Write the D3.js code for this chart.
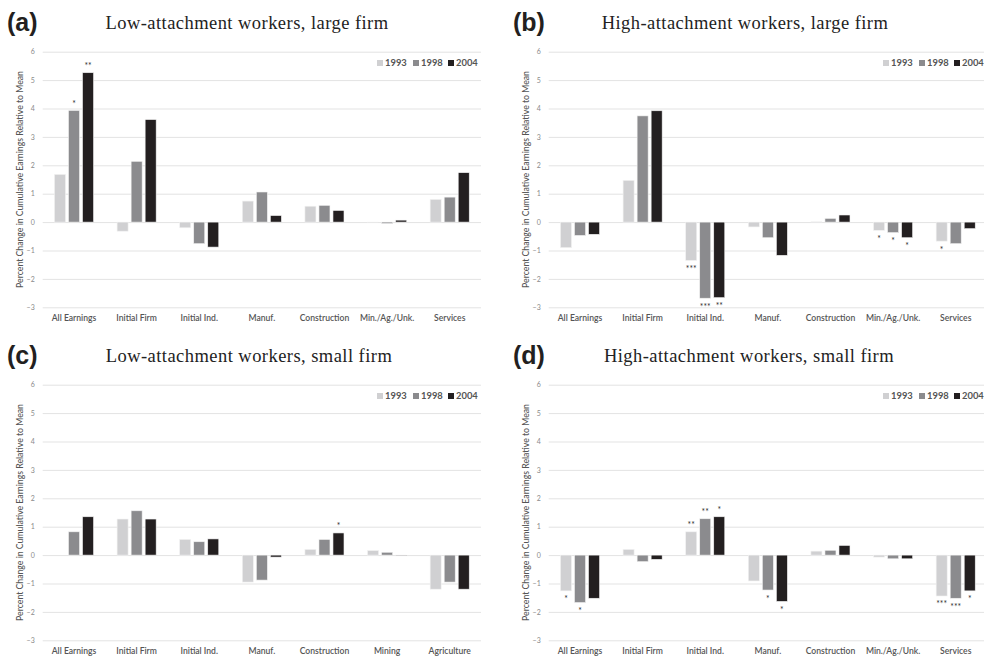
<!DOCTYPE html>
<html>
<head>
<meta charset="utf-8">
<script src="https://cdn.jsdelivr.net/npm/d3@7"></script>
<style>
  html, body { margin: 0; padding: 0; background: #fff; }
  svg { display: block; }
</style>
</head>
<body>
<svg id="chart" width="984" height="657"></svg>
<script>
// Series (survey years) and y-axis ticks shared by all four panels
const years = ["1993", "1998", "2004"];
const yTicks = [-3, -2, -1, 0, 1, 2, 3, 4, 5, 6];

// Category labels
const industryCats = ["All Earnings", "Initial Firm", "Initial Ind.", "Manuf.", "Construction", "Min./Ag./Unk.", "Services"];
const smallLowCats = ["All Earnings", "Initial Firm", "Initial Ind.", "Manuf.", "Construction", "Mining", "Agriculture"];

// (a) Low-attachment workers, large firm
const lowLarge1993 = [1.68, -0.32, -0.20, 0.74, 0.56, -0.02, 0.80];
const lowLarge1998 = [3.93, 2.14, -0.76, 1.06, 0.59, -0.05, 0.88];
const lowLarge2004 = [5.26, 3.61, -0.88, 0.23, 0.41, 0.07, 1.74];
const lowLargeSig1993 = ["", "", "", "", "", "", ""];
const lowLargeSig1998 = ["*", "", "", "", "", "", ""];
const lowLargeSig2004 = ["**", "", "", "", "", "", ""];

// (b) High-attachment workers, large firm
const highLarge1993 = [-0.90, 1.47, -1.35, -0.17, 0.01, -0.29, -0.67];
const highLarge1998 = [-0.47, 3.74, -2.68, -0.55, 0.13, -0.37, -0.76];
const highLarge2004 = [-0.43, 3.92, -2.66, -1.17, 0.25, -0.55, -0.23];
const highLargeSig1993 = ["", "", "***", "", "", "*", "*"];
const highLargeSig1998 = ["", "", "***", "", "", "*", ""];
const highLargeSig2004 = ["", "", "**", "", "", "*", ""];

// (c) Low-attachment workers, small firm
const lowSmall1993 = [0.00, 1.27, 0.55, -0.95, 0.20, 0.16, -1.20];
const lowSmall1998 = [0.82, 1.56, 0.47, -0.88, 0.55, 0.10, -0.95];
const lowSmall2004 = [1.35, 1.27, 0.57, -0.07, 0.78, -0.01, -1.20];
const lowSmallSig1993 = ["", "", "", "", "", "", ""];
const lowSmallSig1998 = ["", "", "", "", "", "", ""];
const lowSmallSig2004 = ["", "", "", "", "*", "", ""];

// (d) High-attachment workers, small firm
const highSmall1993 = [-1.26, 0.20, 0.82, -0.91, 0.14, -0.07, -1.44];
const highSmall1998 = [-1.67, -0.23, 1.28, -1.23, 0.17, -0.13, -1.52];
const highSmall2004 = [-1.52, -0.15, 1.35, -1.63, 0.34, -0.13, -1.26];
const highSmallSig1993 = ["*", "", "**", "", "", "", "***"];
const highSmallSig1998 = ["*", "", "**", "*", "", "", "***"];
const highSmallSig2004 = ["", "", "*", "*", "", "", "*"];

const panels = [
  { tag: "(a)", title: "Low-attachment workers, large firm", cats: industryCats,
    series: [lowLarge1993, lowLarge1998, lowLarge2004],
    sig: [lowLargeSig1993, lowLargeSig1998, lowLargeSig2004], dx: 0, dy: 0, tx: 247 },
  { tag: "(b)", title: "High-attachment workers, large firm", cats: industryCats,
    series: [highLarge1993, highLarge1998, highLarge2004],
    sig: [highLargeSig1993, highLargeSig1998, highLargeSig2004], dx: 506, dy: 0, tx: 239 },
  { tag: "(c)", title: "Low-attachment workers, small firm", cats: smallLowCats,
    series: [lowSmall1993, lowSmall1998, lowSmall2004],
    sig: [lowSmallSig1993, lowSmallSig1998, lowSmallSig2004], dx: 0, dy: 333, tx: 249 },
  { tag: "(d)", title: "High-attachment workers, small firm", cats: industryCats,
    series: [highSmall1993, highSmall1998, highSmall2004],
    sig: [highSmallSig1993, highSmallSig1998, highSmallSig2004], dx: 506, dy: 333, tx: 243 }
];

const colors = d3.scaleOrdinal().domain(years).range(["#d0d0d2", "#8b8b8e", "#231f20"]);

const svg = d3.select("#chart");
const labelFont = "Lato, 'Open Sans', sans-serif";

panels.forEach(p => {
  const g = svg.append("g").attr("transform", `translate(${p.dx},${p.dy})`);

  const x = d3.scaleBand().domain(p.cats).range([42.7, 481]).paddingInner(0).paddingOuter(0);
  const xs = d3.scaleBand().domain(years).range([0, x.bandwidth()]).paddingInner(0.214).paddingOuter(0.84);
  const y = d3.scaleLinear().domain([-3, 6]).range([307.3, 51.7]);

  // Panel tag and title
  g.append("text").attr("x", 7).attr("y", 31)
    .attr("font-family", "'Liberation Sans', Arial, sans-serif").attr("font-weight", "bold")
    .attr("font-size", 25).attr("fill", "#231f20").text(p.tag);
  g.append("text").attr("x", p.tx).attr("y", 29).attr("text-anchor", "middle")
    .attr("font-family", "'Liberation Serif', 'DejaVu Serif', serif")
    .attr("font-size", 18.5).attr("letter-spacing", 0.45).attr("fill", "#222").text(p.title);

  // Horizontal gridlines and tick labels
  const yAxis = d3.axisLeft(y).tickValues(yTicks).tickSize(-(x.range()[1] - x.range()[0])).tickPadding(7)
    .tickFormat(d3.format("d"));
  const ax = g.append("g").attr("transform", `translate(${x.range()[0]},0)`).call(yAxis);
  ax.select(".domain").remove();
  ax.selectAll(".tick line").attr("stroke", "#e3e3e3").attr("stroke-width", 1);
  ax.selectAll(".tick text").attr("font-family", labelFont).attr("font-size", 7)
    .attr("fill", "#8a8a8a").attr("x", -8);

  // Y-axis title
  g.append("text").attr("transform", `translate(23,${(y(6) + y(-3)) / 2}) rotate(-90)`)
    .attr("text-anchor", "middle").attr("font-family", labelFont).attr("font-size", 8.7)
    .attr("font-weight", 500).attr("fill", "#555").text("Percent Change in Cumulative Earnings Relative to Mean");

  // Category labels
  const xAxis = d3.axisBottom(x).tickSize(0).tickPadding(0);
  const bx = g.append("g").attr("transform", `translate(0,${y(-3) + 14})`).call(xAxis);
  bx.select(".domain").remove();
  bx.selectAll(".tick text").attr("font-family", labelFont).attr("font-size", 8.6)
    .attr("font-weight", 600).attr("fill", "#555").attr("dy", 0);

  // Bars
  years.forEach((yr, si) => {
    const vals = p.series[si];
    const rows = p.cats.map((c, i) => ({ c, v: vals[i], s: p.sig[si][i] }));
    const sg = g.append("g");
    sg.selectAll("rect").data(rows)
      .join("rect")
      .attr("x", d => x(d.c) + xs(yr))
      .attr("width", xs.bandwidth())
      .attr("y", d => y(Math.max(0, d.v)))
      .attr("height", d => Math.abs(y(d.v) - y(0)))
      .attr("fill", colors(yr))
      .attr("stroke", "#f2f2f2").attr("stroke-width", 0.6);
    // Significance stars
    sg.selectAll("text").data(rows.filter(d => d.s))
      .join("text")
      .attr("x", d => x(d.c) + xs(yr) + xs.bandwidth() / 2)
      .attr("y", d => d.v >= 0 ? y(d.v) - 3.5 : y(d.v) + 11.5)
      .attr("text-anchor", "middle").attr("font-family", labelFont).attr("font-size", 8.5)
      .attr("fill", "#333").text(d => d.s);
  });

  // Legend
  const lg = g.append("g").attr("transform", "translate(377,63)");
  const legendX = [0, 36, 71];
  years.forEach((yr, i) => {
    lg.append("rect").attr("x", legendX[i]).attr("y", -3).attr("width", 6).attr("height", 6)
      .attr("fill", colors(yr));
    lg.append("text").attr("x", legendX[i] + 8).attr("y", 3.4)
      .attr("font-family", labelFont).attr("font-size", 9.4).attr("font-weight", 700)
      .attr("fill", "#555").text(yr);
  });
});
</script>
</body>
</html>
